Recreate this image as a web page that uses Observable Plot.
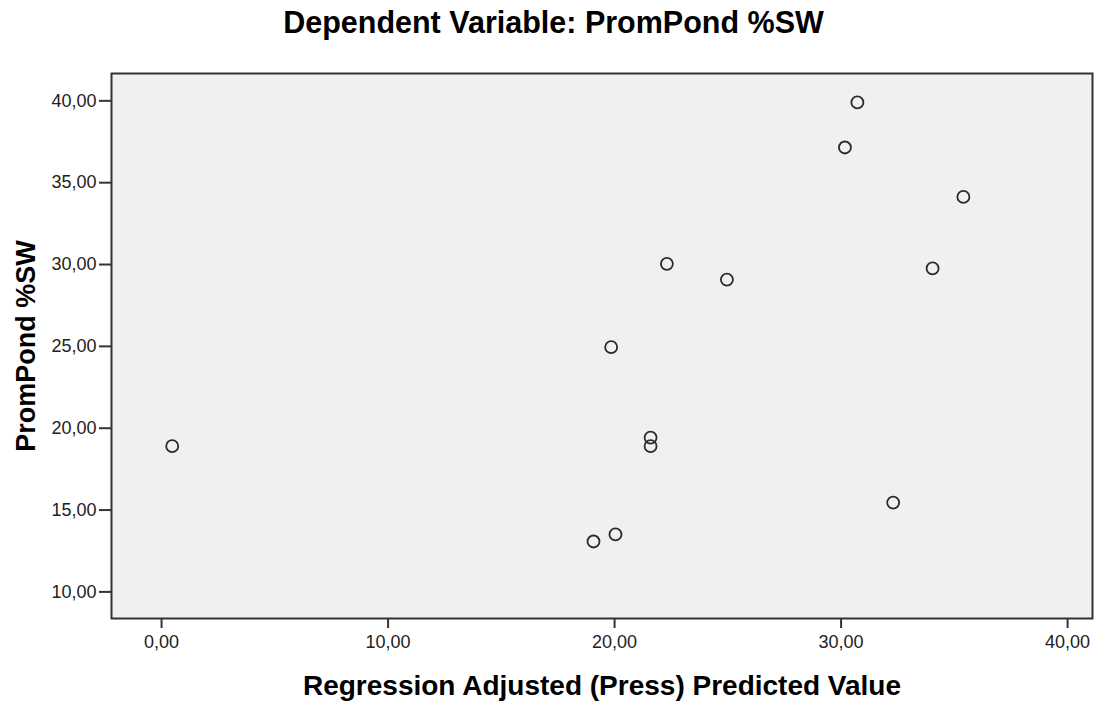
<!DOCTYPE html>
<html>
<head>
<meta charset="utf-8">
<script src="https://cdn.jsdelivr.net/npm/d3@7"></script>
<script src="https://cdn.jsdelivr.net/npm/@observablehq/plot@0.6"></script>
<style>
  html, body { margin: 0; padding: 0; background: #ffffff; }
  #title { height: 50px; width: 1107px; text-align: center; font-family: "Liberation Sans", Arial, sans-serif; font-weight: bold; font-size: 30.5px; line-height: 44px; color: #000; }
  g[aria-label="x-axis label"] text, g[aria-label="y-axis label"] text { font-weight: bold; font-size: 27px; fill: #000; }
  g[aria-label="x-axis label"] text { font-size: 28px; }
</style>
</head>
<body>
<div id="title">Dependent Variable: PromPond %SW</div>
<div id="chart"></div>
<script>
const predicted = [0.47, 19.07, 20.04, 19.85, 21.59, 21.59, 22.31, 24.96, 30.17, 30.72, 32.30, 34.04, 35.40];
const promPond  = [18.90, 13.08, 13.51, 24.95, 19.43, 18.90, 30.04, 29.08, 37.15, 39.90, 15.46, 29.76, 34.13];
const xTicks = [0, 10, 20, 30, 40];
const yTicks = [10, 15, 20, 25, 30, 35, 40];

const data = predicted.map((x, i) => ({x, y: promPond[i]}));
const fmt = d => d.toFixed(2).replace(".", ",");

const chart = Plot.plot({
  width: 1107,
  height: 655,
  marginTop: 23,
  marginLeft: 111,
  marginRight: 15,
  marginBottom: 87,
  style: {fontFamily: "'Liberation Sans', Arial, sans-serif", fontSize: "18px", color: "#222", background: "#ffffff", overflow: "visible"},
  x: {domain: [-2.21, 41.1]},
  y: {domain: [8.375, 41.67]},
  marks: [
    Plot.frame({fill: "#f0f0f0", stroke: null}),
    Plot.dot(data, {x: "x", y: "y", r: 6, stroke: "#2a2a2a", strokeWidth: 1.8, fill: "none"}),
    Plot.frame({stroke: "#333", strokeWidth: 2}),
    Plot.axisX({ticks: xTicks, tickFormat: fmt, tickSize: 10, tickPadding: 7, stroke: "#333", strokeWidth: 2,
      label: "Regression Adjusted (Press) Predicted Value", labelAnchor: "center", labelArrow: "none", labelOffset: 76}),
    Plot.axisY({ticks: yTicks, tickFormat: fmt, tickSize: 12, tickPadding: 3, stroke: "#333", strokeWidth: 2,
      label: "PromPond %SW", labelAnchor: "center", labelArrow: "none", labelOffset: 96})
  ]
});
document.getElementById("chart").appendChild(chart);
</script>
</body>
</html>
